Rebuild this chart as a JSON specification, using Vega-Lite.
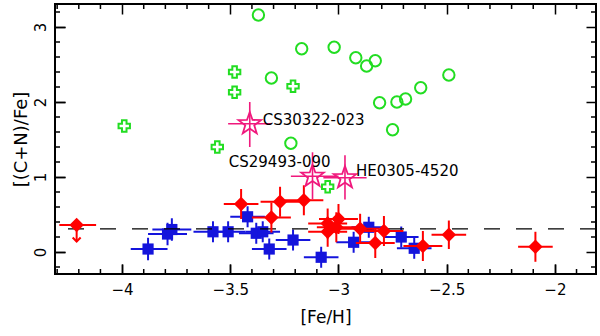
{
  "$schema": "https://vega.github.io/schema/vega-lite/v6.json",
  "width": 541,
  "height": 270,
  "autosize": {"type": "none"},
  "padding": {"left": 55, "top": 4, "right": 4, "bottom": 62},
  "background": "white",
  "config": {
    "view": {"stroke": "black", "strokeWidth": 2},
    "axis": {
      "domain": false,
      "tickColor": "black",
      "tickWidth": 1.5,
      "gridColor": "black",
      "gridWidth": 1.5,
      "gridOpacity": 1,
      "labelFont": "DejaVu Sans",
      "labelFontSize": 15,
      "labelColor": "black",
      "titleFont": "DejaVu Sans",
      "titleFontSize": 17,
      "titleFontWeight": "normal",
      "titleColor": "black"
    },
    "axisX": {"titlePadding": 12},
    "axisY": {"labelAngle": -90, "labelAlign": "center", "labelBaseline": "bottom", "titlePadding": 3, "titleFontSize": 18}
  },
  "datasets": {
    "xminor": [
      {"v": -4.3}, {"v": -4.2}, {"v": -4.1}, {"v": -3.9}, {"v": -3.8}, {"v": -3.7}, {"v": -3.6},
      {"v": -3.4}, {"v": -3.3}, {"v": -3.2}, {"v": -3.1}, {"v": -2.9}, {"v": -2.8}, {"v": -2.7},
      {"v": -2.6}, {"v": -2.4}, {"v": -2.3}, {"v": -2.2}, {"v": -2.1}, {"v": -1.9}
    ],
    "yminor": [
      {"v": -0.2}, {"v": 0.2}, {"v": 0.4}, {"v": 0.6}, {"v": 0.8}, {"v": 1.2}, {"v": 1.4},
      {"v": 1.6}, {"v": 1.8}, {"v": 2.2}, {"v": 2.4}, {"v": 2.6}, {"v": 2.8}, {"v": 3.2}
    ],
    "blue": [
      {"x": -3.88, "y": 0.04, "xlo": -3.96, "xhi": -3.79, "ylo": -0.11, "yhi": 0.19},
      {"x": -3.79, "y": 0.24, "xlo": -3.88, "xhi": -3.70, "ylo": 0.09, "yhi": 0.39},
      {"x": -3.77, "y": 0.30, "xlo": -3.86, "xhi": -3.68, "ylo": 0.15, "yhi": 0.45},
      {"x": -3.58, "y": 0.27, "xlo": -3.67, "xhi": -3.49, "ylo": 0.13, "yhi": 0.41},
      {"x": -3.51, "y": 0.27, "xlo": -3.59, "xhi": -3.43, "ylo": 0.13, "yhi": 0.41},
      {"x": -3.42, "y": 0.47, "xlo": -3.50, "xhi": -3.34, "ylo": 0.33, "yhi": 0.61},
      {"x": -3.38, "y": 0.25, "xlo": -3.46, "xhi": -3.30, "ylo": 0.11, "yhi": 0.39},
      {"x": -3.35, "y": 0.27, "xlo": -3.43, "xhi": -3.27, "ylo": 0.13, "yhi": 0.41},
      {"x": -3.32, "y": 0.04, "xlo": -3.40, "xhi": -3.24, "ylo": -0.10, "yhi": 0.18},
      {"x": -3.21, "y": 0.16, "xlo": -3.29, "xhi": -3.13, "ylo": 0.02, "yhi": 0.30},
      {"x": -3.08, "y": -0.07, "xlo": -3.16, "xhi": -3.00, "ylo": -0.21, "yhi": 0.07},
      {"x": -2.93, "y": 0.13, "xlo": -3.01, "xhi": -2.85, "ylo": -0.01, "yhi": 0.27},
      {"x": -2.86, "y": 0.33, "xlo": -2.94, "xhi": -2.78, "ylo": 0.19, "yhi": 0.47},
      {"x": -2.71, "y": 0.20, "xlo": -2.79, "xhi": -2.63, "ylo": 0.06, "yhi": 0.34},
      {"x": -2.65, "y": 0.05, "xlo": -2.73, "xhi": -2.57, "ylo": -0.09, "yhi": 0.19}
    ],
    "red": [
      {"x": -3.45, "y": 0.64, "xlo": -3.53, "xhi": -3.37, "ylo": 0.44, "yhi": 0.84},
      {"x": -3.31, "y": 0.46, "xlo": -3.40, "xhi": -3.22, "ylo": 0.26, "yhi": 0.66},
      {"x": -3.27, "y": 0.67, "xlo": -3.36, "xhi": -3.18, "ylo": 0.47, "yhi": 0.87},
      {"x": -3.16, "y": 0.69, "xlo": -3.25, "xhi": -3.07, "ylo": 0.49, "yhi": 0.89},
      {"x": -3.05, "y": 0.38, "xlo": -3.14, "xhi": -2.96, "ylo": 0.18, "yhi": 0.58},
      {"x": -3.05, "y": 0.27, "xlo": -3.14, "xhi": -2.96, "ylo": 0.07, "yhi": 0.47},
      {"x": -3.00, "y": 0.44, "xlo": -3.09, "xhi": -2.91, "ylo": 0.24, "yhi": 0.64},
      {"x": -3.01, "y": 0.33, "xlo": -3.10, "xhi": -2.92, "ylo": 0.13, "yhi": 0.53},
      {"x": -2.90, "y": 0.31, "xlo": -2.99, "xhi": -2.81, "ylo": 0.11, "yhi": 0.51},
      {"x": -2.79, "y": 0.28, "xlo": -2.88, "xhi": -2.70, "ylo": 0.08, "yhi": 0.48},
      {"x": -2.83, "y": 0.12, "xlo": -2.92, "xhi": -2.74, "ylo": -0.08, "yhi": 0.32},
      {"x": -2.61, "y": 0.08, "xlo": -2.70, "xhi": -2.52, "ylo": -0.12, "yhi": 0.28},
      {"x": -2.49, "y": 0.23, "xlo": -2.57, "xhi": -2.41, "ylo": 0.04, "yhi": 0.42},
      {"x": -2.09, "y": 0.07, "xlo": -2.17, "xhi": -2.01, "ylo": -0.13, "yhi": 0.27}
    ],
    "redul": [
      {"x": -4.21, "y": 0.36, "xlo": -4.29, "xhi": -4.12, "yend": 0.14}
    ],
    "refline": [
      {"y": 0.31}
    ],
    "circles": [
      {"x": -3.37, "y": 3.16}, {"x": -3.17, "y": 2.71}, {"x": -3.02, "y": 2.73},
      {"x": -2.92, "y": 2.59}, {"x": -2.87, "y": 2.48}, {"x": -2.83, "y": 2.55},
      {"x": -2.49, "y": 2.36}, {"x": -2.62, "y": 2.19}, {"x": -2.69, "y": 2.04},
      {"x": -2.73, "y": 2.00}, {"x": -2.81, "y": 1.99}, {"x": -2.75, "y": 1.63},
      {"x": -3.31, "y": 2.32}, {"x": -3.22, "y": 1.45}
    ],
    "crosses": [
      {"x": -3.99, "y": 1.68}, {"x": -3.48, "y": 2.40}, {"x": -3.48, "y": 2.13},
      {"x": -3.21, "y": 2.21}, {"x": -3.56, "y": 1.40}, {"x": -3.05, "y": 0.87}
    ],
    "stars": [
      {"name": "CS30322-023", "x": -3.41, "y": 1.71, "xlo": -3.51, "xhi": -3.31, "ylo": 1.40, "yhi": 2.00},
      {"name": "CS29493-090", "x": -3.12, "y": 1.01, "xlo": -3.22, "xhi": -3.00, "ylo": 0.70, "yhi": 1.33},
      {"name": "HE0305-4520", "x": -2.97, "y": 0.99, "xlo": -3.07, "xhi": -2.87, "ylo": 0.70, "yhi": 1.29}
    ]
  },
  "layer": [
    {
      "data": {"name": "xminor"},
      "mark": {"type": "rule", "color": "black", "strokeWidth": 1.5, "strokeDash": [5, 260, 5, 1000]},
      "encoding": {
        "x": {"field": "v", "type": "quantitative", "scale": {"domain": [-4.31, -1.81], "nice": false, "zero": false},
          "axis": {"orient": "bottom", "title": "[Fe/H]", "values": [-4, -3.5, -3, -2.5, -2], "format": "~g", "ticks": true, "tickSize": -10, "labelPadding": 18, "grid": true, "gridDash": [10, 250, 10, 1000]}}
      }
    },
    {
      "data": {"name": "yminor"},
      "mark": {"type": "rule", "color": "black", "strokeWidth": 1.5, "strokeDash": [5, 531, 5, 1000]},
      "encoding": {
        "y": {"field": "v", "type": "quantitative", "scale": {"domain": [-0.293, 3.307], "nice": false, "zero": false},
          "axis": {"orient": "left", "title": "[(C+N)/Fe]", "values": [0, 1, 2, 3], "format": "~g", "ticks": true, "tickSize": -10, "labelPadding": 17, "grid": true, "gridDash": [10, 521, 10, 1000]}}
      }
    },
    {
      "data": {"name": "blue"},
      "mark": {"type": "rule", "color": "#1414dc", "strokeWidth": 2},
      "encoding": {
        "x": {"field": "xlo", "type": "quantitative", "scale": {"domain": [-4.31, -1.81], "nice": false, "zero": false},
          "axis": {"orient": "bottom", "title": "[Fe/H]", "values": [-4, -3.5, -3, -2.5, -2], "format": "~g", "ticks": true, "tickSize": -10, "labelPadding": 18, "grid": true, "gridDash": [10, 250, 10, 1000]}},
        "x2": {"field": "xhi"},
        "y": {"field": "y", "type": "quantitative", "scale": {"domain": [-0.293, 3.307], "nice": false, "zero": false},
          "axis": {"orient": "left", "title": "[(C+N)/Fe]", "values": [0, 1, 2, 3], "format": "~g", "ticks": true, "tickSize": -10, "labelPadding": 17, "grid": true, "gridDash": [10, 521, 10, 1000]}}
      }
    },
    {
      "data": {"name": "blue"},
      "mark": {"type": "rule", "color": "#1414dc", "strokeWidth": 2},
      "encoding": {
        "x": {"field": "x", "type": "quantitative", "scale": {"domain": [-4.31, -1.81], "nice": false, "zero": false},
          "axis": {"orient": "bottom", "title": "[Fe/H]", "values": [-4, -3.5, -3, -2.5, -2], "format": "~g", "ticks": true, "tickSize": -10, "labelPadding": 18, "grid": true, "gridDash": [10, 250, 10, 1000]}},
        "y": {"field": "ylo", "type": "quantitative", "scale": {"domain": [-0.293, 3.307], "nice": false, "zero": false},
          "axis": {"orient": "left", "title": "[(C+N)/Fe]", "values": [0, 1, 2, 3], "format": "~g", "ticks": true, "tickSize": -10, "labelPadding": 17, "grid": true, "gridDash": [10, 521, 10, 1000]}},
        "y2": {"field": "yhi"}
      }
    },
    {
      "data": {"name": "blue"},
      "mark": {"type": "point", "shape": "square", "filled": true, "color": "#1414dc", "opacity": 1, "size": 125},
      "encoding": {
        "x": {"field": "x", "type": "quantitative", "scale": {"domain": [-4.31, -1.81], "nice": false, "zero": false},
          "axis": {"orient": "bottom", "title": "[Fe/H]", "values": [-4, -3.5, -3, -2.5, -2], "format": "~g", "ticks": true, "tickSize": -10, "labelPadding": 18, "grid": true, "gridDash": [10, 250, 10, 1000]}},
        "y": {"field": "y", "type": "quantitative", "scale": {"domain": [-0.293, 3.307], "nice": false, "zero": false},
          "axis": {"orient": "left", "title": "[(C+N)/Fe]", "values": [0, 1, 2, 3], "format": "~g", "ticks": true, "tickSize": -10, "labelPadding": 17, "grid": true, "gridDash": [10, 521, 10, 1000]}}
      }
    },
    {
      "data": {"name": "refline"},
      "mark": {"type": "rule", "color": "black", "strokeWidth": 1.3, "strokeDash": [16, 16]},
      "encoding": {
        "y": {"field": "y", "type": "quantitative", "scale": {"domain": [-0.293, 3.307], "nice": false, "zero": false},
          "axis": {"orient": "left", "title": "[(C+N)/Fe]", "values": [0, 1, 2, 3], "format": "~g", "ticks": true, "tickSize": -10, "labelPadding": 17, "grid": true, "gridDash": [10, 521, 10, 1000]}}
      }
    },
    {
      "data": {"name": "red"},
      "mark": {"type": "rule", "color": "#ff0000", "strokeWidth": 2},
      "encoding": {
        "x": {"field": "xlo", "type": "quantitative", "scale": {"domain": [-4.31, -1.81], "nice": false, "zero": false},
          "axis": {"orient": "bottom", "title": "[Fe/H]", "values": [-4, -3.5, -3, -2.5, -2], "format": "~g", "ticks": true, "tickSize": -10, "labelPadding": 18, "grid": true, "gridDash": [10, 250, 10, 1000]}},
        "x2": {"field": "xhi"},
        "y": {"field": "y", "type": "quantitative", "scale": {"domain": [-0.293, 3.307], "nice": false, "zero": false},
          "axis": {"orient": "left", "title": "[(C+N)/Fe]", "values": [0, 1, 2, 3], "format": "~g", "ticks": true, "tickSize": -10, "labelPadding": 17, "grid": true, "gridDash": [10, 521, 10, 1000]}}
      }
    },
    {
      "data": {"name": "red"},
      "mark": {"type": "rule", "color": "#ff0000", "strokeWidth": 2},
      "encoding": {
        "x": {"field": "x", "type": "quantitative", "scale": {"domain": [-4.31, -1.81], "nice": false, "zero": false},
          "axis": {"orient": "bottom", "title": "[Fe/H]", "values": [-4, -3.5, -3, -2.5, -2], "format": "~g", "ticks": true, "tickSize": -10, "labelPadding": 18, "grid": true, "gridDash": [10, 250, 10, 1000]}},
        "y": {"field": "ylo", "type": "quantitative", "scale": {"domain": [-0.293, 3.307], "nice": false, "zero": false},
          "axis": {"orient": "left", "title": "[(C+N)/Fe]", "values": [0, 1, 2, 3], "format": "~g", "ticks": true, "tickSize": -10, "labelPadding": 17, "grid": true, "gridDash": [10, 521, 10, 1000]}},
        "y2": {"field": "yhi"}
      }
    },
    {
      "data": {"name": "red"},
      "mark": {"type": "point", "shape": "diamond", "filled": true, "color": "#ff0000", "opacity": 1, "size": 210},
      "encoding": {
        "x": {"field": "x", "type": "quantitative", "scale": {"domain": [-4.31, -1.81], "nice": false, "zero": false},
          "axis": {"orient": "bottom", "title": "[Fe/H]", "values": [-4, -3.5, -3, -2.5, -2], "format": "~g", "ticks": true, "tickSize": -10, "labelPadding": 18, "grid": true, "gridDash": [10, 250, 10, 1000]}},
        "y": {"field": "y", "type": "quantitative", "scale": {"domain": [-0.293, 3.307], "nice": false, "zero": false},
          "axis": {"orient": "left", "title": "[(C+N)/Fe]", "values": [0, 1, 2, 3], "format": "~g", "ticks": true, "tickSize": -10, "labelPadding": 17, "grid": true, "gridDash": [10, 521, 10, 1000]}}
      }
    },
    {
      "data": {"name": "redul"},
      "mark": {"type": "rule", "color": "#ff0000", "strokeWidth": 2},
      "encoding": {
        "x": {"field": "xlo", "type": "quantitative", "scale": {"domain": [-4.31, -1.81], "nice": false, "zero": false},
          "axis": {"orient": "bottom", "title": "[Fe/H]", "values": [-4, -3.5, -3, -2.5, -2], "format": "~g", "ticks": true, "tickSize": -10, "labelPadding": 18, "grid": true, "gridDash": [10, 250, 10, 1000]}},
        "x2": {"field": "xhi"},
        "y": {"field": "y", "type": "quantitative", "scale": {"domain": [-0.293, 3.307], "nice": false, "zero": false},
          "axis": {"orient": "left", "title": "[(C+N)/Fe]", "values": [0, 1, 2, 3], "format": "~g", "ticks": true, "tickSize": -10, "labelPadding": 17, "grid": true, "gridDash": [10, 521, 10, 1000]}}
      }
    },
    {
      "data": {"name": "redul"},
      "mark": {"type": "rule", "color": "#ff0000", "strokeWidth": 2},
      "encoding": {
        "x": {"field": "x", "type": "quantitative", "scale": {"domain": [-4.31, -1.81], "nice": false, "zero": false},
          "axis": {"orient": "bottom", "title": "[Fe/H]", "values": [-4, -3.5, -3, -2.5, -2], "format": "~g", "ticks": true, "tickSize": -10, "labelPadding": 18, "grid": true, "gridDash": [10, 250, 10, 1000]}},
        "y": {"field": "y", "type": "quantitative", "scale": {"domain": [-0.293, 3.307], "nice": false, "zero": false},
          "axis": {"orient": "left", "title": "[(C+N)/Fe]", "values": [0, 1, 2, 3], "format": "~g", "ticks": true, "tickSize": -10, "labelPadding": 17, "grid": true, "gridDash": [10, 521, 10, 1000]}},
        "y2": {"field": "yend"}
      }
    },
    {
      "data": {"name": "redul"},
      "mark": {"type": "point", "shape": "M-1,-1L0,0L1,-1", "filled": false, "color": "#ff0000", "strokeWidth": 2, "opacity": 1, "size": 64},
      "encoding": {
        "x": {"field": "x", "type": "quantitative", "scale": {"domain": [-4.31, -1.81], "nice": false, "zero": false},
          "axis": {"orient": "bottom", "title": "[Fe/H]", "values": [-4, -3.5, -3, -2.5, -2], "format": "~g", "ticks": true, "tickSize": -10, "labelPadding": 18, "grid": true, "gridDash": [10, 250, 10, 1000]}},
        "y": {"field": "yend", "type": "quantitative", "scale": {"domain": [-0.293, 3.307], "nice": false, "zero": false},
          "axis": {"orient": "left", "title": "[(C+N)/Fe]", "values": [0, 1, 2, 3], "format": "~g", "ticks": true, "tickSize": -10, "labelPadding": 17, "grid": true, "gridDash": [10, 521, 10, 1000]}}
      }
    },
    {
      "data": {"name": "redul"},
      "mark": {"type": "point", "shape": "diamond", "filled": true, "color": "#ff0000", "opacity": 1, "size": 210},
      "encoding": {
        "x": {"field": "x", "type": "quantitative", "scale": {"domain": [-4.31, -1.81], "nice": false, "zero": false},
          "axis": {"orient": "bottom", "title": "[Fe/H]", "values": [-4, -3.5, -3, -2.5, -2], "format": "~g", "ticks": true, "tickSize": -10, "labelPadding": 18, "grid": true, "gridDash": [10, 250, 10, 1000]}},
        "y": {"field": "y", "type": "quantitative", "scale": {"domain": [-0.293, 3.307], "nice": false, "zero": false},
          "axis": {"orient": "left", "title": "[(C+N)/Fe]", "values": [0, 1, 2, 3], "format": "~g", "ticks": true, "tickSize": -10, "labelPadding": 17, "grid": true, "gridDash": [10, 521, 10, 1000]}}
      }
    },
    {
      "data": {"name": "circles"},
      "mark": {"type": "point", "shape": "circle", "filled": false, "color": "#22dd22", "strokeWidth": 2, "opacity": 1, "size": 130},
      "encoding": {
        "x": {"field": "x", "type": "quantitative", "scale": {"domain": [-4.31, -1.81], "nice": false, "zero": false},
          "axis": {"orient": "bottom", "title": "[Fe/H]", "values": [-4, -3.5, -3, -2.5, -2], "format": "~g", "ticks": true, "tickSize": -10, "labelPadding": 18, "grid": true, "gridDash": [10, 250, 10, 1000]}},
        "y": {"field": "y", "type": "quantitative", "scale": {"domain": [-0.293, 3.307], "nice": false, "zero": false},
          "axis": {"orient": "left", "title": "[(C+N)/Fe]", "values": [0, 1, 2, 3], "format": "~g", "ticks": true, "tickSize": -10, "labelPadding": 17, "grid": true, "gridDash": [10, 521, 10, 1000]}}
      }
    },
    {
      "data": {"name": "crosses"},
      "mark": {"type": "point", "shape": "cross", "filled": false, "color": "#22dd22", "strokeWidth": 2, "opacity": 1, "size": 130},
      "encoding": {
        "x": {"field": "x", "type": "quantitative", "scale": {"domain": [-4.31, -1.81], "nice": false, "zero": false},
          "axis": {"orient": "bottom", "title": "[Fe/H]", "values": [-4, -3.5, -3, -2.5, -2], "format": "~g", "ticks": true, "tickSize": -10, "labelPadding": 18, "grid": true, "gridDash": [10, 250, 10, 1000]}},
        "y": {"field": "y", "type": "quantitative", "scale": {"domain": [-0.293, 3.307], "nice": false, "zero": false},
          "axis": {"orient": "left", "title": "[(C+N)/Fe]", "values": [0, 1, 2, 3], "format": "~g", "ticks": true, "tickSize": -10, "labelPadding": 17, "grid": true, "gridDash": [10, 521, 10, 1000]}}
      }
    },
    {
      "data": {"name": "stars"},
      "mark": {"type": "rule", "color": "#f0197d", "strokeWidth": 1.6},
      "encoding": {
        "x": {"field": "xlo", "type": "quantitative", "scale": {"domain": [-4.31, -1.81], "nice": false, "zero": false},
          "axis": {"orient": "bottom", "title": "[Fe/H]", "values": [-4, -3.5, -3, -2.5, -2], "format": "~g", "ticks": true, "tickSize": -10, "labelPadding": 18, "grid": true, "gridDash": [10, 250, 10, 1000]}},
        "x2": {"field": "xhi"},
        "y": {"field": "y", "type": "quantitative", "scale": {"domain": [-0.293, 3.307], "nice": false, "zero": false},
          "axis": {"orient": "left", "title": "[(C+N)/Fe]", "values": [0, 1, 2, 3], "format": "~g", "ticks": true, "tickSize": -10, "labelPadding": 17, "grid": true, "gridDash": [10, 521, 10, 1000]}}
      }
    },
    {
      "data": {"name": "stars"},
      "mark": {"type": "rule", "color": "#f0197d", "strokeWidth": 1.6},
      "encoding": {
        "x": {"field": "x", "type": "quantitative", "scale": {"domain": [-4.31, -1.81], "nice": false, "zero": false},
          "axis": {"orient": "bottom", "title": "[Fe/H]", "values": [-4, -3.5, -3, -2.5, -2], "format": "~g", "ticks": true, "tickSize": -10, "labelPadding": 18, "grid": true, "gridDash": [10, 250, 10, 1000]}},
        "y": {"field": "ylo", "type": "quantitative", "scale": {"domain": [-0.293, 3.307], "nice": false, "zero": false},
          "axis": {"orient": "left", "title": "[(C+N)/Fe]", "values": [0, 1, 2, 3], "format": "~g", "ticks": true, "tickSize": -10, "labelPadding": 17, "grid": true, "gridDash": [10, 521, 10, 1000]}},
        "y2": {"field": "yhi"}
      }
    },
    {
      "data": {"name": "stars"},
      "mark": {"type": "point", "shape": "M0,-1L0.235,-0.324L0.951,-0.309L0.38,0.124L0.588,0.809L0,0.4L-0.588,0.809L-0.38,0.124L-0.951,-0.309L-0.235,-0.324Z", "filled": false, "color": "#f0197d", "strokeWidth": 1.8, "opacity": 1, "size": 560},
      "encoding": {
        "x": {"field": "x", "type": "quantitative", "scale": {"domain": [-4.31, -1.81], "nice": false, "zero": false},
          "axis": {"orient": "bottom", "title": "[Fe/H]", "values": [-4, -3.5, -3, -2.5, -2], "format": "~g", "ticks": true, "tickSize": -10, "labelPadding": 18, "grid": true, "gridDash": [10, 250, 10, 1000]}},
        "y": {"field": "y", "type": "quantitative", "scale": {"domain": [-0.293, 3.307], "nice": false, "zero": false},
          "axis": {"orient": "left", "title": "[(C+N)/Fe]", "values": [0, 1, 2, 3], "format": "~g", "ticks": true, "tickSize": -10, "labelPadding": 17, "grid": true, "gridDash": [10, 521, 10, 1000]}}
      }
    },
    {
      "data": {"name": "stars"},
      "transform": [{"filter": "datum.name === 'CS30322-023'"}],
      "mark": {"type": "text", "align": "left", "baseline": "middle", "dx": 13, "dy": -4, "font": "DejaVu Sans", "fontSize": 15, "color": "black"},
      "encoding": {
        "x": {"field": "x", "type": "quantitative", "scale": {"domain": [-4.31, -1.81], "nice": false, "zero": false},
          "axis": {"orient": "bottom", "title": "[Fe/H]", "values": [-4, -3.5, -3, -2.5, -2], "format": "~g", "ticks": true, "tickSize": -10, "labelPadding": 18, "grid": true, "gridDash": [10, 250, 10, 1000]}},
        "y": {"field": "y", "type": "quantitative", "scale": {"domain": [-0.293, 3.307], "nice": false, "zero": false},
          "axis": {"orient": "left", "title": "[(C+N)/Fe]", "values": [0, 1, 2, 3], "format": "~g", "ticks": true, "tickSize": -10, "labelPadding": 17, "grid": true, "gridDash": [10, 521, 10, 1000]}},
        "text": {"field": "name"}
      }
    },
    {
      "data": {"name": "stars"},
      "transform": [{"filter": "datum.name === 'CS29493-090'"}],
      "mark": {"type": "text", "align": "right", "baseline": "middle", "dx": 18, "dy": -14, "font": "DejaVu Sans", "fontSize": 15, "color": "black"},
      "encoding": {
        "x": {"field": "x", "type": "quantitative", "scale": {"domain": [-4.31, -1.81], "nice": false, "zero": false},
          "axis": {"orient": "bottom", "title": "[Fe/H]", "values": [-4, -3.5, -3, -2.5, -2], "format": "~g", "ticks": true, "tickSize": -10, "labelPadding": 18, "grid": true, "gridDash": [10, 250, 10, 1000]}},
        "y": {"field": "y", "type": "quantitative", "scale": {"domain": [-0.293, 3.307], "nice": false, "zero": false},
          "axis": {"orient": "left", "title": "[(C+N)/Fe]", "values": [0, 1, 2, 3], "format": "~g", "ticks": true, "tickSize": -10, "labelPadding": 17, "grid": true, "gridDash": [10, 521, 10, 1000]}},
        "text": {"field": "name"}
      }
    },
    {
      "data": {"name": "stars"},
      "transform": [{"filter": "datum.name === 'HE0305-4520'"}],
      "mark": {"type": "text", "align": "left", "baseline": "middle", "dx": 11, "dy": -7, "font": "DejaVu Sans", "fontSize": 15, "color": "black"},
      "encoding": {
        "x": {"field": "x", "type": "quantitative", "scale": {"domain": [-4.31, -1.81], "nice": false, "zero": false},
          "axis": {"orient": "bottom", "title": "[Fe/H]", "values": [-4, -3.5, -3, -2.5, -2], "format": "~g", "ticks": true, "tickSize": -10, "labelPadding": 18, "grid": true, "gridDash": [10, 250, 10, 1000]}},
        "y": {"field": "y", "type": "quantitative", "scale": {"domain": [-0.293, 3.307], "nice": false, "zero": false},
          "axis": {"orient": "left", "title": "[(C+N)/Fe]", "values": [0, 1, 2, 3], "format": "~g", "ticks": true, "tickSize": -10, "labelPadding": 17, "grid": true, "gridDash": [10, 521, 10, 1000]}},
        "text": {"field": "name"}
      }
    }
  ]
}
